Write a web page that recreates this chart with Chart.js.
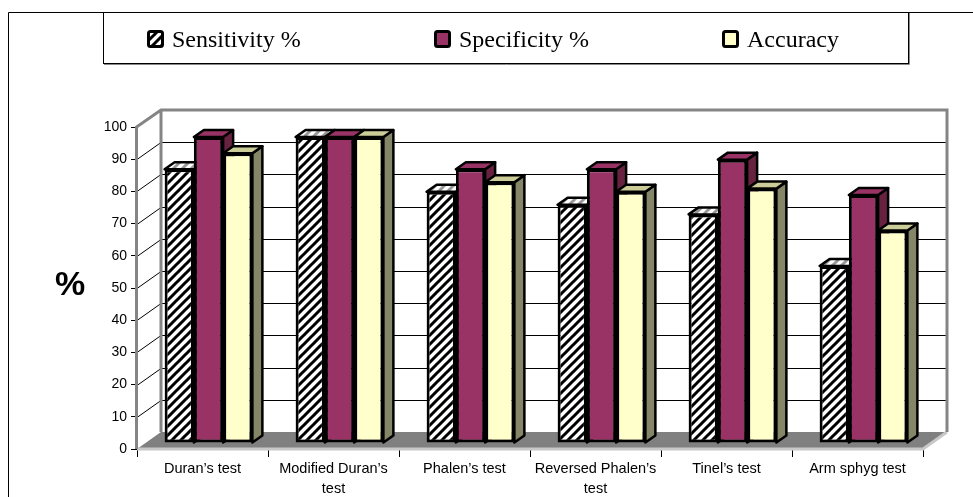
<!DOCTYPE html>
<html>
<head>
<meta charset="utf-8">
<script src="https://cdn.jsdelivr.net/npm/chart.js@4"></script>
<style>
  html, body { margin: 0; padding: 0; background: #fff; }
  canvas { display: block; }
</style>
</head>
<body>
<canvas id="myChart" width="973" height="497"></canvas>
<script>
var categories = ['Duran’s test', ['Modified Duran’s', 'test'], 'Phalen’s test', ['Reversed Phalen’s', 'test'], 'Tinel’s test', 'Arm sphyg test'];
var seriesNames = ['Sensitivity %', 'Specificity %', 'Accuracy'];
var sensitivity = [85, 95, 78, 74, 71, 55];
var specificity = [95, 95, 85, 85, 88, 77];
var accuracy = [90, 95, 81, 78, 79, 66];

// 3d look: wall depth and bar depth, in pixels
var WALL_DX = 24, WALL_DY = 17;
var SHIFT_X = 6, SHIFT_Y = 6;
var BAR_DX = 10, BAR_DY = 7;

var ctx = document.getElementById('myChart').getContext('2d');

function hatch(bg, fg) {
  var c = document.createElement('canvas');
  c.width = 9; c.height = 9;
  var g = c.getContext('2d');
  g.fillStyle = bg;
  g.fillRect(0, 0, 9, 9);
  g.strokeStyle = fg;
  g.lineWidth = 3;
  g.beginPath();
  g.moveTo(-2, 11); g.lineTo(11, -2);
  g.moveTo(-2, 2); g.lineTo(2, -2);
  g.moveTo(7, 11); g.lineTo(11, 7);
  g.stroke();
  return ctx.createPattern(c, 'repeat');
}

var frontFill = [hatch('#ffffff', '#000000'), '#993366', '#FFFFCC'];
var topFill = [hatch('#ffffff', '#999999'), '#993366', '#CCCC99'];
var sideFill = [hatch('#888888', '#000000'), '#66223F', '#858568'];

function face(c, pts, fill) {
  c.beginPath();
  c.moveTo(pts[0][0], pts[0][1]);
  for (var k = 1; k < pts.length; k++) c.lineTo(pts[k][0], pts[k][1]);
  c.closePath();
  c.fillStyle = fill;
  c.fill();
  c.lineWidth = 2.5;
  c.strokeStyle = '#000';
  c.lineJoin = 'round';
  c.stroke();
}

var threeD = {
  id: 'threeD',
  beforeDatasetsDraw: function(chart) {
    var c = chart.ctx, a = chart.chartArea, ys = chart.scales.y;
    var L = a.left, R = a.right, T = a.top, B = a.bottom;
    c.save();
    // back wall grid
    c.strokeStyle = '#000';
    c.lineWidth = 1;
    c.beginPath();
    for (var v = 10; v < 100; v += 10) {
      var yy = Math.round(ys.getPixelForValue(v) - WALL_DY) + 0.5;
      c.moveTo(L + WALL_DX, yy); c.lineTo(R + WALL_DX, yy);
      c.moveTo(L, yy + WALL_DY); c.lineTo(L + WALL_DX, yy);
    }
    c.stroke();
    // floor
    c.beginPath();
    c.moveTo(L, B); c.lineTo(R, B); c.lineTo(R + WALL_DX, B - WALL_DY); c.lineTo(L + WALL_DX, B - WALL_DY);
    c.closePath();
    c.fillStyle = '#808080';
    c.fill();
    c.strokeStyle = '#c8c8c8';
    c.lineWidth = 3;
    c.beginPath();
    c.moveTo(L, B); c.lineTo(R, B); c.lineTo(R + WALL_DX, B - WALL_DY);
    c.stroke();
    // wall edges
    c.strokeStyle = '#858585';
    c.lineWidth = 3;
    c.beginPath();
    c.moveTo(L - 0.5, B); c.lineTo(L - 0.5, T); c.lineTo(L + WALL_DX, T - WALL_DY);
    c.lineTo(R + WALL_DX, T - WALL_DY); c.lineTo(R + WALL_DX, B - WALL_DY);
    c.moveTo(L + WALL_DX, T - WALL_DY); c.lineTo(L + WALL_DX, B - WALL_DY);
    c.stroke();
    c.restore();

    // bar tops and sides, drawn before the fronts
    c.save();
    c.translate(SHIFT_X, -SHIFT_Y);
    for (var j = 0; j < categories.length; j++) {
      for (var i = 0; i < chart.data.datasets.length; i++) {
        var p = chart.getDatasetMeta(i).data[j].getProps(['x', 'y', 'base', 'width'], true);
        var l = p.x - p.width / 2, r = p.x + p.width / 2;
        face(c, [[r, p.y], [r + BAR_DX, p.y - BAR_DY], [r + BAR_DX, p.base - BAR_DY], [r, p.base]], sideFill[i]);
        face(c, [[l, p.y], [r, p.y], [r + BAR_DX, p.y - BAR_DY], [l + BAR_DX, p.y - BAR_DY]], topFill[i]);
      }
    }
  },
  afterDatasetsDraw: function(chart) {
    chart.ctx.restore();
  },
  afterDraw: function(chart) {
    var c = chart.ctx;
    c.save();
    // outer frame and legend box
    c.strokeStyle = '#000';
    c.lineWidth = 1;
    c.beginPath();
    c.moveTo(8.5, 497); c.lineTo(8.5, 12.5); c.lineTo(973, 12.5);
    c.stroke();
    c.strokeRect(103.5, 12.5, 805, 51);
    c.strokeStyle = '#888';
    c.beginPath();
    c.moveTo(104, 64.5); c.lineTo(909.5, 64.5); c.lineTo(909.5, 13);
    c.stroke();
    // legend
    var cols = [147, 434, 722];
    c.font = '24px "Liberation Serif", "Times New Roman", serif';
    c.textBaseline = 'alphabetic';
    c.textAlign = 'left';
    chart.data.datasets.forEach(function(ds, i) {
      var x = cols[i];
      c.beginPath();
      c.roundRect(x + 1.5, 31.5, 14, 15, 2);
      c.fillStyle = ds.backgroundColor;
      c.fill();
      c.lineWidth = 3;
      c.strokeStyle = '#000';
      c.stroke();
      c.fillStyle = '#000';
      c.fillText(ds.label, x + 25, 47);
    });
    // axis title, upright
    c.font = 'bold 34px "Liberation Sans", Arial, sans-serif';
    c.textAlign = 'center';
    c.textBaseline = 'middle';
    c.fillText('%', 70, 286);
    c.restore();
  }
};

var chart = new Chart(ctx, {
  type: 'bar',
  data: {
    labels: categories,
    datasets: [
      { label: seriesNames[0], data: sensitivity, backgroundColor: frontFill[0] },
      { label: seriesNames[1], data: specificity, backgroundColor: frontFill[1] },
      { label: seriesNames[2], data: accuracy, backgroundColor: frontFill[2] }
    ]
  },
  options: {
    responsive: false,
    animation: false,
    events: [],
    layout: { padding: { top: 127, right: 50, bottom: 0, left: 0 } },
    datasets: {
      bar: {
        borderColor: '#000',
        borderWidth: 3,
        borderSkipped: false,
        categoryPercentage: 0.67,
        barPercentage: 1.0
      }
    },
    plugins: {
      legend: { display: false },
      tooltip: { enabled: false }
    },
    scales: {
      x: {
        afterFit: function(s) { s.height = 48; },
        border: { display: false },
        grid: { drawOnChartArea: false, offset: true, color: '#000', tickLength: 8 },
        ticks: {
          color: '#000',
          padding: 2,
          maxRotation: 0,
          autoSkip: false,
          font: { family: '"Liberation Sans", Arial, sans-serif', size: 14.5, lineHeight: 1.4 }
        }
      },
      y: {
        min: 0,
        max: 100,
        afterFit: function(s) { s.width = 137; },
        border: { display: false },
        grid: { drawOnChartArea: false, color: '#000', tickLength: 6 },
        ticks: {
          stepSize: 10,
          color: '#000',
          padding: 4,
          font: { family: '"Liberation Sans", Arial, sans-serif', size: 14 }
        }
      }
    }
  },
  plugins: [threeD]
});
</script>
</body>
</html>
